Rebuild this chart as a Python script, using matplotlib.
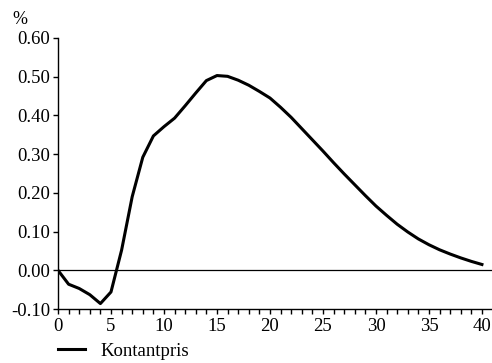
import matplotlib
matplotlib.use("Agg")
import matplotlib.pyplot as plt
from matplotlib.ticker import FixedLocator

plt.rcParams['font.family'] = ['Liberation Serif', 'DejaVu Serif']

quarters = list(range(0, 41))
kontantpris = [0.000, -0.036, -0.047, -0.063, -0.086, -0.056, 0.052, 0.190, 0.292, 0.347,
               0.371, 0.393, 0.425, 0.458, 0.490, 0.503, 0.501, 0.491, 0.478, 0.462,
               0.445, 0.421, 0.395, 0.366, 0.337, 0.308, 0.278, 0.249, 0.221, 0.193,
               0.166, 0.142, 0.119, 0.099, 0.081, 0.066, 0.053, 0.042, 0.032, 0.023, 0.015]
series_label = "Kontantpris"
unit_label = "%"
yticks = [-0.10, 0.00, 0.10, 0.20, 0.30, 0.40, 0.50, 0.60]
xticks = [0, 5, 10, 15, 20, 25, 30, 35, 40]

fs = 13.5
fig = plt.figure(figsize=(4.92, 3.63), dpi=100)
ax = fig.add_axes([58/492, 1-309/363, 1-58/492, (309-38)/363])

ax.plot(quarters, kontantpris, color='black', lw=2.2, label=series_label, solid_joinstyle='round')
ax.axhline(0, color='black', lw=0.9)

ax.set_xlim(0, 40.95)
ax.set_ylim(-0.10, 0.60)
ax.set_yticks(yticks)
ax.set_yticklabels([f"{v:.2f}" for v in yticks])
ax.xaxis.set_major_locator(FixedLocator(xticks))
ax.xaxis.set_minor_locator(FixedLocator(quarters))
ax.set_xticklabels([str(v) for v in xticks])

for s in ['top', 'right']:
    ax.spines[s].set_visible(False)
for s in ['left', 'bottom']:
    ax.spines[s].set_linewidth(1.0)

ax.tick_params(axis='both', which='both', direction='out', length=3.5, width=1.0,
               labelsize=fs, colors='black', pad=2)
ax.tick_params(axis='x', which='major', pad=3)

fig.text(12/492, 1-20/363, unit_label, fontsize=fs - 0.5, va='center', ha='left')

leg = fig.legend(loc='center left', bbox_to_anchor=(58/492, 1-351/363), frameon=False,
                 fontsize=fs, handlelength=1.45, handletextpad=0.8, borderaxespad=0,
                 borderpad=0)

fig.savefig("out.png", dpi=100)
